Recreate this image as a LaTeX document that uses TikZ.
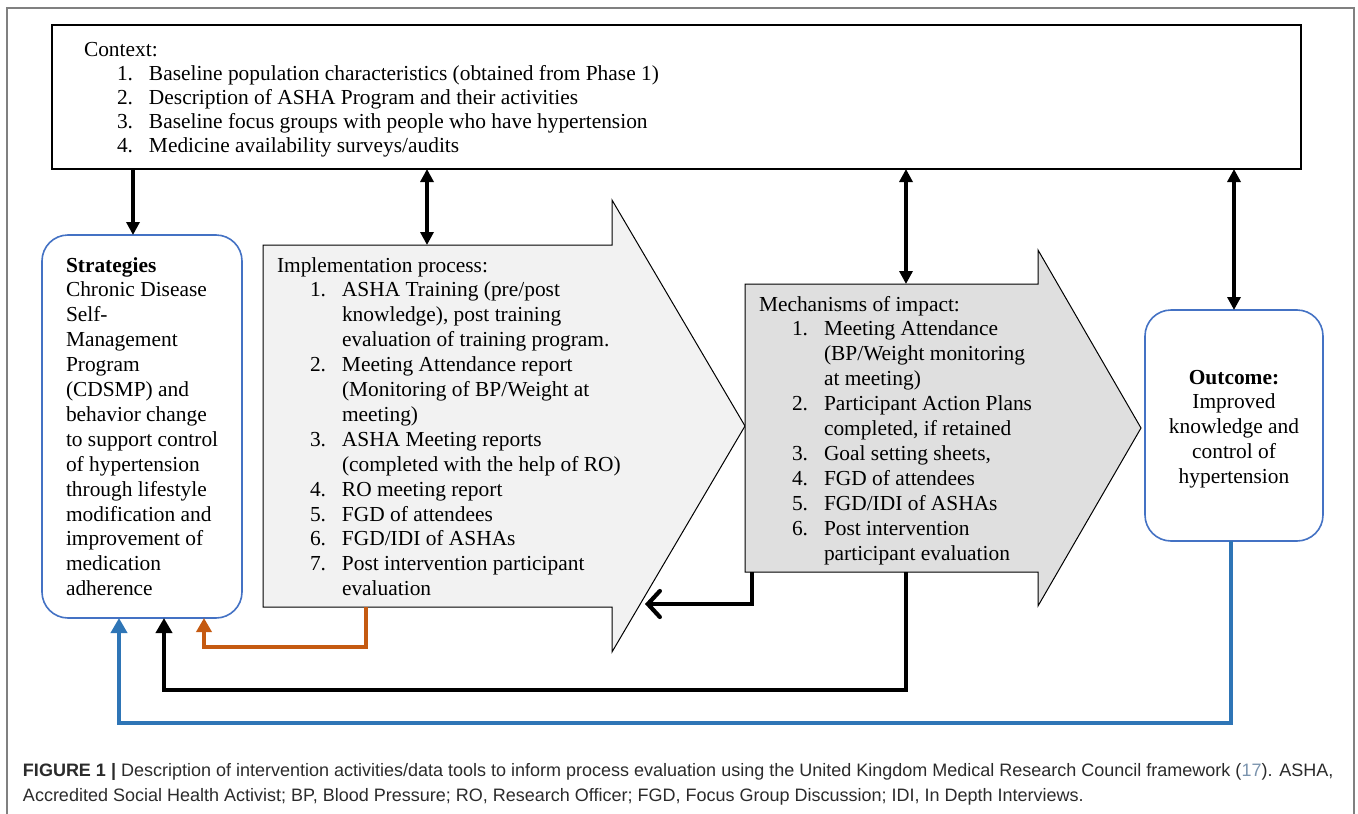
\documentclass[tikz,border=0pt]{standalone}
\usepackage{fontspec}
\setmainfont{Liberation Serif}
\newfontfamily\capfont{Liberation Sans}
\usetikzlibrary{arrows.meta,calc}
\definecolor{boxblue}{HTML}{4472C4}
\definecolor{lineblue}{HTML}{2E75B6}
\definecolor{lineorange}{HTML}{C55A11}
\definecolor{implfill}{HTML}{F2F2F2}
\definecolor{mechfill}{HTML}{DFDFDF}
\definecolor{framegray}{HTML}{808080}
\definecolor{captext}{HTML}{2B2B2B}
\definecolor{citeblue}{HTML}{7A93AD}
\newcommand\bodyfs{\fontsize{21.4}{24.9}\selectfont}
\newcommand\ind{\hspace*{33pt}}
\newcommand\num[1]{\makebox[32pt][l]{#1}}
\newcommand\cont{\hspace*{65pt}}
\begin{document}
\begin{tikzpicture}[x=1pt,y=-1pt,
  plainbox/.style={draw=black,line width=1.2pt,inner sep=0pt,outer sep=0pt},
  roundbox/.style={draw=boxblue,line width=1.6pt,rounded corners=26pt,inner sep=0pt,outer sep=0pt,fill=white},
  ghost/.style={inner sep=0pt,outer sep=0pt},
  txt/.style={inner sep=0pt,outer sep=0pt,anchor=base west},
  dbl/.style={line width=3.2pt,{Triangle[length=13pt,width=13pt]}-{Triangle[length=13pt,width=13pt]}},
  single/.style={line width=3.2pt,-{Triangle[length=13pt,width=13pt]}},
  thickarr/.style={line width=4.2pt,-{Triangle[length=15pt,width=16pt]}},
  barbarr/.style={line width=4.2pt,-{Straight Barb[length=12pt,width=26pt,line cap=round]}}
]
\useasboundingbox (0,0) rectangle (1358,814);
% outer frame
\draw[framegray,line width=1.5pt] (7,820) -- (7,8) -- (1354,8) -- (1354,820);

% context box
\node[plainbox,minimum width=1249pt,minimum height=144pt] (ctx) at (676.5,97) {};
\node[txt] (ctxtext) at (84,56) {\parbox[t]{1200pt}{\bodyfs\raggedright\setlength{\baselineskip}{24pt}Context:\\
\ind\num{1.}Baseline population characteristics (obtained from Phase 1)\\
\ind\num{2.}Description of ASHA Program and their activities\\
\ind\num{3.}Baseline focus groups with people who have hypertension\\
\ind\num{4.}Medicine availability surveys/audits}};

% strategies
\node[roundbox,minimum width=200pt,minimum height=383pt] (strat) at (142,426.5) {};
\node[txt] (strattext) at (66,272) {\parbox[t]{175pt}{\bodyfs\raggedright\textbf{Strategies}\\
Chronic Disease\\ Self-\\ Management\\ Program\\ (CDSMP) and\\ behavior change\\ to support control\\ of hypertension\\ through lifestyle\\ modification and\\ improvement of\\ medication\\ adherence}};

% implementation arrow
\node[ghost,minimum width=349pt,minimum height=362pt] (impl) at (437.5,426) {};
\draw[fill=implfill,line width=1pt,line join=miter]
  (impl.north west) -- (impl.north east) -- ([yshift=45pt]impl.north east)
  -- (745,426) -- ([yshift=-45pt]impl.south east) -- (impl.south east) -- (impl.south west) -- cycle;
\node[txt] (impltext) at (277,272) {\parbox[t]{440pt}{\bodyfs\raggedright Implementation process:\\
\ind\num{1.}ASHA Training (pre/post\\
\cont knowledge), post training\\
\cont evaluation of training program.\\
\ind\num{2.}Meeting Attendance report\\
\cont (Monitoring of BP/Weight at\\
\cont meeting)\\
\ind\num{3.}ASHA Meeting reports\\
\cont (completed with the help of RO)\\
\ind\num{4.}RO meeting report\\
\ind\num{5.}FGD of attendees\\
\ind\num{6.}FGD/IDI of ASHAs\\
\ind\num{7.}Post intervention participant\\
\cont evaluation}};

% mechanisms arrow
\node[ghost,minimum width=293pt,minimum height=288pt] (mech) at (891.5,428) {};
\draw[fill=mechfill,line width=1pt,line join=miter]
  (mech.north west) -- (mech.north east) -- ([yshift=34pt]mech.north east)
  -- (1141,428) -- ([yshift=-34pt]mech.south east) -- (mech.south east) -- (mech.south west) -- cycle;
\node[txt] (mechtext) at (759,311) {\parbox[t]{380pt}{\bodyfs\raggedright Mechanisms of impact:\\
\ind\num{1.}Meeting Attendance\\
\cont (BP/Weight monitoring\\
\cont at meeting)\\
\ind\num{2.}Participant Action Plans\\
\cont completed, if retained\\
\ind\num{3.}Goal setting sheets,\\
\ind\num{4.}FGD of attendees\\
\ind\num{5.}FGD/IDI of ASHAs\\
\ind\num{6.}Post intervention\\
\cont participant evaluation}};

% outcome
\node[roundbox,minimum width=178pt,minimum height=231pt] (outc) at (1234,425.5) {};
\node[inner sep=0pt,anchor=base] (outctext) at (1234,384) {\parbox[t]{176pt}{\bodyfs\centering\textbf{Outcome:}\\
Improved\\ knowledge and\\ control of\\ hypertension}};

% connectors from context
\draw[single] ([xshift=-9pt]strat.north |- ctx.south) -- ([xshift=-9pt]strat.north);
\draw[dbl] ([xshift=-10.5pt]impl.north |- ctx.south) -- ([xshift=-10.5pt]impl.north);
\draw[dbl] ([xshift=14.5pt]mech.north |- ctx.south) -- ([xshift=14.5pt]mech.north);
\draw[dbl] (outc.north |- ctx.south) -- (outc.north);

% feedback connectors
\coordinate (implhead) at (645,604);
\draw[barbarr] ([xshift=7pt]mech.south west) |- (implhead);
\draw[thickarr] ([xshift=14.5pt]mech.south) -- ++(0,118) -| ([xshift=22pt]strat.south);
\draw[lineorange,line width=3.6pt,-{Triangle[length=14pt,width=15pt]}] ([xshift=-71.5pt]impl.south) -- ++(0,40) -| ([xshift=62pt]strat.south);
\draw[lineblue,line width=4.2pt,-{Triangle[length=15pt,width=16pt]}] ([xshift=-3pt]outc.south) -- ++(0,182) -| ([xshift=-23pt]strat.south);

% caption
\node[txt,text=captext] (caption) at (23,776) {\parbox[t]{1335pt}{\capfont\fontsize{18}{25}\selectfont\raggedright\textbf{FIGURE 1} \textbf{|} Description of intervention activities/data tools to inform process evaluation using the United Kingdom Medical Research Council framework ({\color{citeblue}17}). ASHA,\\
Accredited Social Health Activist; BP, Blood Pressure; RO, Research Officer; FGD, Focus Group Discussion; IDI, In Depth Interviews.}};
\end{tikzpicture}
\end{document}
